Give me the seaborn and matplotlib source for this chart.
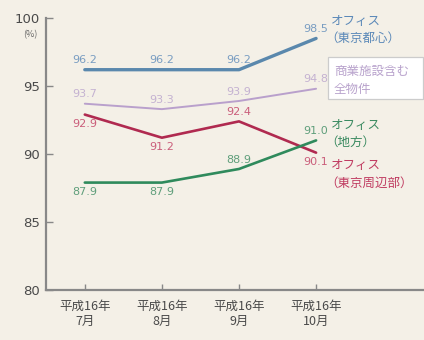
import matplotlib
matplotlib.use("Agg")
import matplotlib.pyplot as plt
import seaborn as sns
import pandas as pd

sns.set_theme(style="white")
plt.rcParams['font.family'] = ['Noto Sans CJK JP', 'DejaVu Sans']

months = ["平成16年\n7月", "平成16年\n8月", "平成16年\n9月", "平成16年\n10月"]
office_central = [96.2, 96.2, 96.2, 98.5]
all_props = [93.7, 93.3, 93.9, 94.8]
office_suburb = [92.9, 91.2, 92.4, 90.1]
office_local = [87.9, 87.9, 88.9, 91.0]

series_names = ["central", "all", "suburb", "local"]
series_values = [office_central, all_props, office_suburb, office_local]
colors = ["#5a88ad", "#b9a0cc", "#b02a50", "#2f8a5c"]
text_colors = ["#5a88b8", "#b8a2cc", "#c03a60", "#3a8a60"]
widths = [2.4, 1.4, 1.9, 1.9]
label_pos = [["a", "a", "a", "a"], ["a", "a", "a", "a"], ["b", "b", "a", "b"], ["b", "b", "a", "a"]]

bg = "#f4f0e7"
fig = plt.figure(figsize=(4.24, 3.4), dpi=100, facecolor=bg)
ax = fig.add_axes([0.108, 0.147, 0.892, 0.8])
ax.set_facecolor(bg)

rows = []
for name, vals in zip(series_names, series_values):
    for i, v in enumerate(vals):
        rows.append({"x": i, "y": v, "series": name})
df = pd.DataFrame(rows)

for name, c, w in zip(series_names, colors, widths):
    sns.lineplot(data=df[df["series"] == name], x="x", y="y", color=c,
                 linewidth=w, ax=ax, legend=False)

for vals, c, pos in zip(series_values, text_colors, label_pos):
    for i, v in enumerate(vals):
        off = 0.68 if pos[i] == "a" else -0.72
        ax.text(i, v + off, f"{v:.1f}", color=c, fontsize=8, ha="center",
                va="center", alpha=0.8, family="DejaVu Sans")

ax.set_xlim(-0.506, 4.4)
ax.set_ylim(80, 100)
ax.set_yticks([80, 85, 90, 95, 100])
ax.set_yticklabels(["80", "85", "90", "95", "100"], fontsize=9.5, color="#4a4a4a", family="DejaVu Sans")
ax.set_xticks(range(4))
ax.set_xticklabels(months, fontsize=9, color="#4a4a4a", linespacing=1.25)
ax.set_xlabel("")
ax.set_ylabel("")
for s in ["top", "right"]:
    ax.spines[s].set_visible(False)
for s in ["left", "bottom"]:
    ax.spines[s].set_color("#888888")
    ax.spines[s].set_linewidth(1.6)
ax.tick_params(axis="y", left=True, direction="in", length=5, color="#888888", width=1, pad=4)
ax.tick_params(axis="x", bottom=True, direction="in", length=4, color="#888888", width=1, pad=7)

def fy(py):
    return 1 - py / 340
fig.text(30 / 424, fy(35), "(%)", fontsize=6.5, color="#666666", ha="center", va="center")

# series labels
lx = 331 / 424
lxp = 325 / 424
fs = 9
fig.text(lx, fy(21), "オフィス", color=text_colors[0], fontsize=fs, va="center", ha="left")
fig.text(lxp, fy(38), "（東京都心）", color=text_colors[0], fontsize=fs, va="center", ha="left")
fig.patches.append(plt.Rectangle((328 / 424, fy(99)), 95 / 424, 42 / 340, transform=fig.transFigure,
                                 fc="white", ec="#cccccc", lw=0.9, figure=fig))
fig.text(334 / 424, fy(71), "商業施設含む", color=text_colors[1], fontsize=fs, va="center", ha="left")
fig.text(334 / 424, fy(89), "全物件", color=text_colors[1], fontsize=fs, va="center", ha="left")
fig.text(lx, fy(125), "オフィス", color=text_colors[3], fontsize=fs, va="center", ha="left")
fig.text(lxp, fy(142), "（地方）", color=text_colors[3], fontsize=fs, va="center", ha="left")
fig.text(lx, fy(166), "オフィス", color=text_colors[2], fontsize=fs, va="center", ha="left")
fig.text(lxp, fy(183), "（東京周辺部）", color=text_colors[2], fontsize=fs, va="center", ha="left")

fig.savefig("out.png", dpi=100, facecolor=bg)
